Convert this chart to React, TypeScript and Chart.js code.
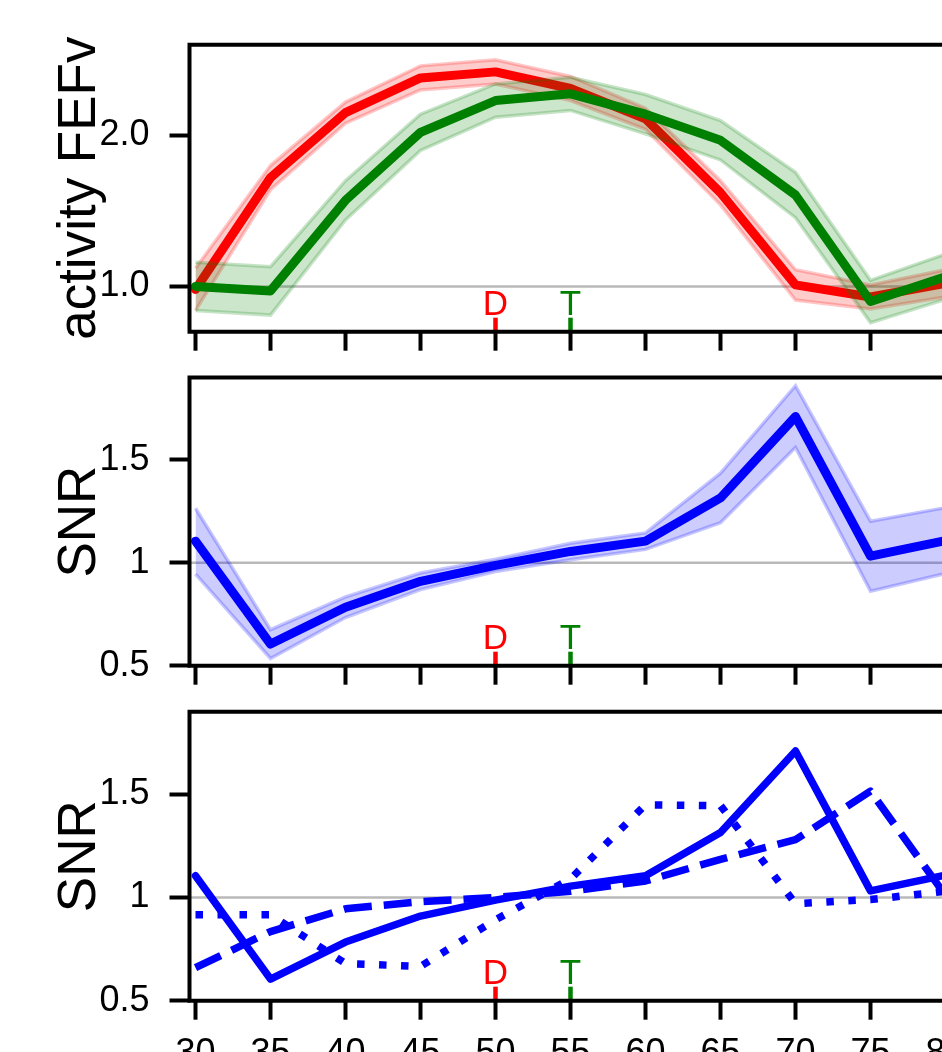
import React, { useEffect, useRef } from 'react';
import { Chart, registerables } from 'chart.js';

Chart.register(...registerables);

// ---------------- data ----------------
const X_VALUES = [30, 35, 40, 45, 50, 55, 60, 65, 70, 75, 80];
const X_TICKS = [30, 35, 40, 45, 50, 55, 60, 65, 70, 75, 80];
const X_TICK_LABELS = ['30', '35', '40', '45', '50', '55', '60', '65', '70', '75', '80'];

const FEFV_D_MEAN = [0.98, 1.72, 2.15, 2.38, 2.42, 2.31, 2.11, 1.62, 1.01, 0.93, 1.02];
const FEFV_D_SEM = [0.14, 0.08, 0.07, 0.08, 0.08, 0.08, 0.07, 0.08, 0.1, 0.08, 0.09];
const FEFV_T_MEAN = [1.0, 0.97, 1.57, 2.02, 2.23, 2.275, 2.14, 1.967, 1.605, 0.9, 1.064];
const FEFV_T_SEM = [0.16, 0.16, 0.13, 0.12, 0.11, 0.11, 0.13, 0.13, 0.15, 0.14, 0.15];

const SNR_SOLID = [1.105, 0.605, 0.784, 0.91, 0.987, 1.055, 1.105, 1.315, 1.71, 1.032, 1.108];
const SNR_SOLID_SEM = [0.16, 0.07, 0.05, 0.04, 0.03, 0.04, 0.04, 0.12, 0.15, 0.17, 0.16];
const SNR_DOTTED = [0.916, 0.916, 0.68, 0.666, 0.892, 1.09, 1.449, 1.445, 0.97, 0.99, 1.03];
const SNR_DASHED = [0.66, 0.835, 0.945, 0.98, 1.0, 1.03, 1.08, 1.185, 1.28, 1.515, 1.01];

const FEFV_Y_TICKS = [1.0, 2.0];
const FEFV_Y_LABELS = ['1.0', '2.0'];
const SNR_Y_TICKS = [0.5, 1, 1.5];
const SNR_Y_LABELS = ['0.5', '1', '1.5'];

const MARKER_X = [50, 55];
const MARKER_TEXT = ['D', 'T'];
const MARKER_COLORS = ['#ff0000', '#008000'];

const REF_LEVEL = 1;

// ---------------- styling / layout ----------------
const FONT = '"Liberation Sans", Arial, sans-serif';
const X_MIN = 29.6;
const X_MAX = 82;
const AXIS_LEFT = 189.5;
const CANVAS_W = 1000;
const PAD_RIGHT = 24.5;

const pts = (vals: number[]) => X_VALUES.map((x, i) => ({ x, y: vals[i] }));
const band = (m: number[], s: number[], sign: number) =>
  X_VALUES.map((x, i) => ({ x, y: m[i] + sign * s[i] }));

function bandSets(mean: number[], sem: number[], rgb: string, lineColor: string, lw: number) {
  return [
    {
      data: band(mean, sem, 1),
      borderColor: `rgba(${rgb},0.22)`,
      backgroundColor: `rgba(${rgb},0.2)`,
      borderWidth: 3.5,
      fill: '+1',
      pointRadius: 0,
    },
    {
      data: band(mean, sem, -1),
      borderColor: `rgba(${rgb},0.22)`,
      borderWidth: 3.5,
      fill: false,
      pointRadius: 0,
    },
    {
      data: pts(mean),
      borderColor: lineColor,
      borderWidth: lw,
      fill: false,
      pointRadius: 0,
      borderJoinStyle: 'round',
      borderCapStyle: 'round',
    },
  ];
}

function makeDecor(yLabel: string) {
  return {
    id: 'panelDecor',
    beforeDatasetsDraw(chart: any) {
      const { ctx, chartArea: ca, scales } = chart;
      const y = scales.y.getPixelForValue(REF_LEVEL);
      ctx.save();
      ctx.strokeStyle = 'rgba(128,128,128,0.55)';
      ctx.lineWidth = 2.5;
      ctx.beginPath();
      ctx.moveTo(ca.left, y);
      ctx.lineTo(ca.right, y);
      ctx.stroke();
      ctx.restore();
    },
    afterDatasetsDraw(chart: any) {
      const { ctx, chartArea: ca, scales } = chart;
      ctx.save();
      MARKER_X.forEach((mx, i) => {
        const x = scales.x.getPixelForValue(mx);
        ctx.fillStyle = MARKER_COLORS[i];
        ctx.fillRect(x - 2.25, ca.bottom - 14, 4.5, 14);
        ctx.font = `35px ${FONT}`;
        ctx.textAlign = 'center';
        ctx.textBaseline = 'alphabetic';
        ctx.fillText(MARKER_TEXT[i], x, ca.bottom - 16.5);
      });
      ctx.strokeStyle = '#000';
      ctx.lineWidth = 4;
      ctx.lineJoin = 'miter';
      ctx.beginPath();
      ctx.moveTo(ca.right + 20, ca.top);
      ctx.lineTo(ca.left, ca.top);
      ctx.lineTo(ca.left, ca.bottom);
      ctx.lineTo(ca.right + 20, ca.bottom);
      ctx.stroke();
      ctx.restore();
    },
    afterDraw(chart: any) {
      const { ctx, chartArea: ca } = chart;
      ctx.save();
      ctx.translate(95, (ca.top + ca.bottom) / 2);
      ctx.rotate(-Math.PI / 2);
      ctx.font = `53px ${FONT}`;
      ctx.fillStyle = '#000';
      ctx.textAlign = 'center';
      ctx.textBaseline = 'alphabetic';
      ctx.fillText(yLabel, 0, 0);
      ctx.restore();
    },
  };
}

type PanelCfg = {
  top: number;
  height: number;
  padTop: number;
  xAxisH: number;
  yMin: number;
  yMax: number;
  yTicks: number[];
  yLabels: string[];
  yLabel: string;
  showXLabels: boolean;
  datasets: any[];
};

function withOrder(ds: any[]) {
  return ds.map((d, i) => ({ ...d, order: ds.length - i, tension: 0 }));
}

const PANELS: PanelCfg[] = [
  {
    top: 0,
    height: 355,
    padTop: 44.7,
    xAxisH: 23.3,
    yMin: 0.7,
    yMax: 2.6,
    yTicks: FEFV_Y_TICKS,
    yLabels: FEFV_Y_LABELS,
    yLabel: 'activity FEFv',
    showXLabels: false,
    datasets: withOrder([
      ...bandSets(FEFV_D_MEAN, FEFV_D_SEM, '255,0,0', '#ff0000', 9),
      ...bandSets(FEFV_T_MEAN, FEFV_T_SEM, '0,128,0', '#008000', 9),
    ]),
  },
  {
    top: 355,
    height: 335,
    padTop: 22.5,
    xAxisH: 24.3,
    yMin: 0.5,
    yMax: 1.9,
    yTicks: SNR_Y_TICKS,
    yLabels: SNR_Y_LABELS,
    yLabel: 'SNR',
    showXLabels: false,
    datasets: withOrder([...bandSets(SNR_SOLID, SNR_SOLID_SEM, '0,0,255', '#0000ff', 9)]),
  },
  {
    top: 690,
    height: 362,
    padTop: 21.7,
    xAxisH: 51.3,
    yMin: 0.5,
    yMax: 1.9,
    yTicks: SNR_Y_TICKS,
    yLabels: SNR_Y_LABELS,
    yLabel: 'SNR',
    showXLabels: true,
    datasets: withOrder([
      {
        data: pts(SNR_SOLID),
        borderColor: '#0000ff',
        borderWidth: 7.5,
        pointRadius: 0,
        fill: false,
        borderJoinStyle: 'round',
        borderCapStyle: 'round',
      },
      {
        data: pts(SNR_DOTTED),
        borderColor: '#0000ff',
        borderWidth: 7.5,
        pointRadius: 0,
        fill: false,
        borderDash: [7.5, 14.5],
        borderCapStyle: 'butt',
        borderJoinStyle: 'round',
      },
      {
        data: pts(SNR_DASHED),
        borderColor: '#0000ff',
        borderWidth: 7.5,
        pointRadius: 0,
        fill: false,
        borderDash: [28, 12],
        borderCapStyle: 'butt',
        borderJoinStyle: 'round',
      },
    ]),
  },
];

function Panel({ cfg }: { cfg: PanelCfg }) {
  const ref = useRef<HTMLCanvasElement | null>(null);
  useEffect(() => {
    if (!ref.current) return;
    const chart = new Chart(ref.current, {
      type: 'line',
      data: { datasets: cfg.datasets },
      options: {
        animation: false,
        responsive: false,
        devicePixelRatio: 1,
        layout: { padding: { top: cfg.padTop, left: 0, right: PAD_RIGHT, bottom: 0 } },
        plugins: { legend: { display: false }, tooltip: { enabled: false } },
        scales: {
          x: {
            type: 'linear',
            min: X_MIN,
            max: X_MAX,
            border: { display: false },
            grid: {
              drawOnChartArea: false,
              drawTicks: true,
              tickLength: 19,
              tickWidth: 4,
              tickColor: '#000',
            },
            afterBuildTicks: (axis: any) => {
              axis.ticks = X_TICKS.map((v) => ({ value: v }));
            },
            afterFit: (axis: any) => {
              axis.height = cfg.xAxisH;
              axis.paddingLeft = 0;
              axis.paddingRight = 0;
            },
            ticks: {
              autoSkip: false,
              maxRotation: 0,
              padding: 13,
              color: '#000',
              font: { family: FONT, size: 36 },
              callback: (v: any) => {
                if (!cfg.showXLabels) return '';
                const i = X_TICKS.indexOf(Number(v));
                return i >= 0 ? X_TICK_LABELS[i] : '';
              },
            },
          },
          y: {
            type: 'linear',
            min: cfg.yMin,
            max: cfg.yMax,
            border: { display: false },
            grid: {
              drawOnChartArea: false,
              drawTicks: true,
              tickLength: 20,
              tickWidth: 4,
              tickColor: '#000',
            },
            afterBuildTicks: (axis: any) => {
              axis.ticks = cfg.yTicks.map((v) => ({ value: v }));
            },
            afterFit: (axis: any) => {
              axis.width = AXIS_LEFT;
              axis.paddingTop = 0;
              axis.paddingBottom = 0;
            },
            ticks: {
              autoSkip: false,
              padding: 20,
              color: '#000',
              font: { family: FONT, size: 36 },
              callback: (v: any) => {
                const i = cfg.yTicks.findIndex((t) => Math.abs(t - Number(v)) < 1e-9);
                return i >= 0 ? cfg.yLabels[i] : '';
              },
            },
          },
        },
      } as any,
      plugins: [makeDecor(cfg.yLabel)],
    });
    return () => chart.destroy();
  }, [cfg]);
  return (
    <canvas
      ref={ref}
      width={CANVAS_W}
      height={cfg.height}
      style={{
        position: 'absolute',
        left: 0,
        top: cfg.top,
        width: CANVAS_W,
        height: cfg.height,
        display: 'block',
      }}
    />
  );
}

export default function App() {
  return (
    <div
      style={{
        position: 'fixed',
        left: 0,
        top: 0,
        width: 942,
        height: 1052,
        overflow: 'hidden',
        background: '#fff',
      }}
    >
      {PANELS.map((p, i) => (
        <Panel key={i} cfg={p} />
      ))}
    </div>
  );
}
